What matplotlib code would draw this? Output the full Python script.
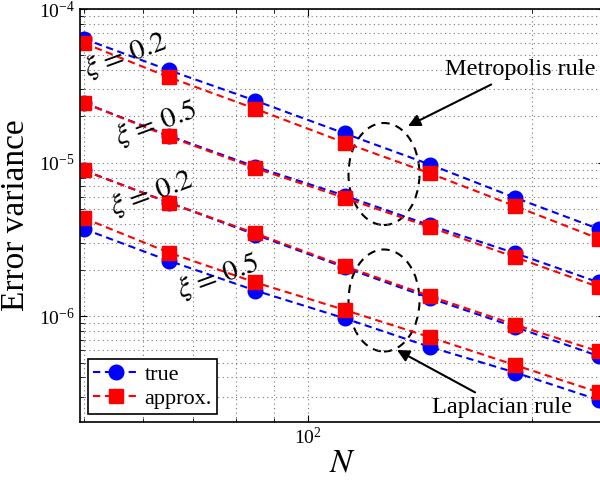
import numpy as np
import matplotlib
matplotlib.use("Agg")
import matplotlib.pyplot as plt
from matplotlib.patches import Ellipse

plt.rcParams['font.family'] = ['Liberation Serif', 'DejaVu Serif']
plt.rcParams['mathtext.fontset'] = 'stix'

# N values
N = [50, 65, 85, 112, 146, 190, 246]

# Metropolis rule
metro_02_true = [6.4e-5, 4.0e-5, 2.53e-5, 1.55e-5, 9.7e-6, 5.9e-6, 3.7e-6]
metro_02_appr = [6.0e-5, 3.6e-5, 2.24e-5, 1.35e-5, 8.5e-6, 5.2e-6, 3.2e-6]
metro_05_true = [2.45e-5, 1.5e-5, 9.4e-6, 6.1e-6, 3.9e-6, 2.57e-6, 1.66e-6]
metro_05_appr = [2.45e-5, 1.48e-5, 9.2e-6, 5.9e-6, 3.8e-6, 2.42e-6, 1.55e-6]

# Laplacian rule
lap_02_true = [8.9e-6, 5.5e-6, 3.4e-6, 2.08e-6, 1.31e-6, 8.5e-7, 5.5e-7]
lap_02_appr = [8.9e-6, 5.5e-6, 3.46e-6, 2.12e-6, 1.35e-6, 8.8e-7, 5.9e-7]
lap_05_true = [3.7e-6, 2.3e-6, 1.47e-6, 9.7e-7, 6.3e-7, 4.3e-7, 2.85e-7]
lap_05_appr = [4.35e-6, 2.6e-6, 1.66e-6, 1.1e-6, 7.3e-7, 4.8e-7, 3.2e-7]

true_series = [metro_02_true, metro_05_true, lap_02_true, lap_05_true]
appr_series = [metro_02_appr, metro_05_appr, lap_02_appr, lap_05_appr]

fig = plt.figure(figsize=(6, 4.82), dpi=100)
ax = fig.add_axes([80/600, 60/482, 525/600, 413/482])

dash = (0, (3.5, 2.2))
for i, ys in enumerate(true_series):
    ax.plot(N, ys, color='b', linestyle=dash, linewidth=1.5, marker='o',
            markersize=10.5, label='true' if i == 0 else None)
for i, ys in enumerate(appr_series):
    ax.plot(N, ys, color='r', linestyle=dash, linewidth=1.5, marker='s',
            markersize=9.5, label='approx.' if i == 0 else None)

ax.set_xscale('log')
ax.set_yscale('log')
ax.set_xlim(49.4, 250.7)
ax.set_ylim(2.05e-7, 1e-4)

ax.grid(True, which='both', linestyle=(0, (1, 3)), color='#777777', linewidth=0.8)
ax.tick_params(which='both', direction='in', top=True, right=True, labelsize=14)
ax.tick_params(which='major', length=5)
ax.tick_params(which='minor', length=3)
ax.xaxis.set_minor_formatter(matplotlib.ticker.NullFormatter())
for s in ax.spines.values():
    s.set_linewidth(1.2)

ax.set_xlabel('$N$', fontsize=24, labelpad=0)
ax.set_ylabel('Error variance', fontsize=24, labelpad=6)

# xi labels
lab_kw = dict(transform=ax.transAxes, fontsize=21, rotation=20,
              ha='center', va='center')
ax.text((125-80)/525, (422-55)/413, r'$\xi\,=\,0.2$', **lab_kw)
ax.text((156-80)/525, (422-123)/413, r'$\xi\,=\,0.5$', **lab_kw)
ax.text((151-80)/525, (422-193)/413, r'$\xi\,=\,0.2$', **lab_kw)
ax.text((218-80)/525, (422-276)/413, r'$\xi\,=\,0.5$', **lab_kw)

# ellipses
for cy in (174, 300.5):
    e = Ellipse(((384-80)/525, (422-cy)/413), 71/525, 102/413,
                transform=ax.transAxes, fill=False, edgecolor='k',
                linestyle=(0, (4, 3)), linewidth=1.5)
    ax.add_patch(e)

arrow = dict(arrowstyle='-|>', color='k', lw=1.5, mutation_scale=18,
             shrinkA=2, shrinkB=0)
ax.annotate('Metropolis rule', xy=((408-80)/525, (422-126)/413), xycoords='axes fraction',
            xytext=((445-80)/525, (422-70)/413), textcoords='axes fraction',
            fontsize=17.5, ha='left', va='center', arrowprops=arrow)
ax.annotate('Laplacian rule', xy=((397-80)/525, (422-350)/413), xycoords='axes fraction',
            xytext=((432-80)/525, (422-407)/413), textcoords='axes fraction',
            fontsize=17.5, ha='left', va='center', arrowprops=arrow)

leg = ax.legend(loc='lower left', bbox_to_anchor=(0.0, 0.0), fontsize=16,
                fancybox=False, edgecolor='k', framealpha=1, handlelength=2.0,
                borderaxespad=0.35, labelspacing=0.15, handletextpad=0.3,
                borderpad=0.25)
leg.get_frame().set_linewidth(1.2)

fig.savefig('out.png', dpi=100)
